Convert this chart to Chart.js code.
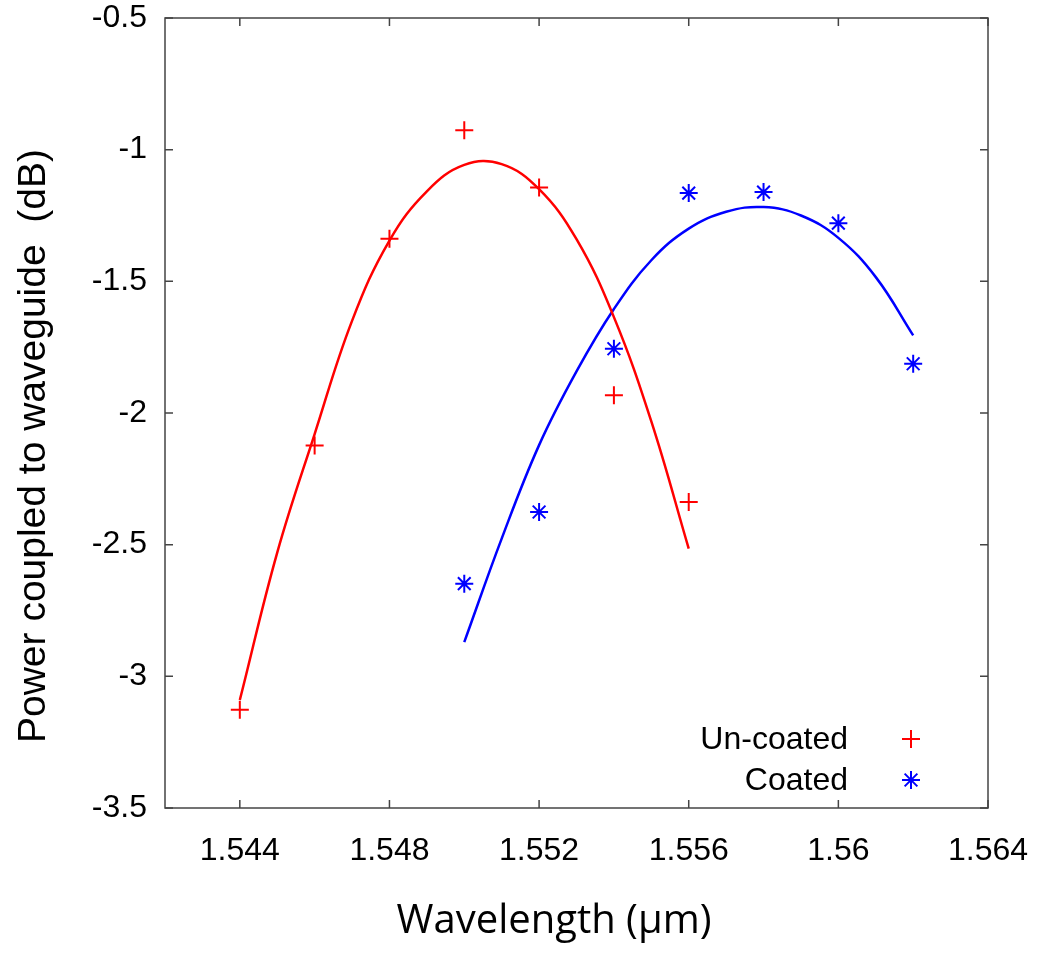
<!DOCTYPE html>
<html>
<head>
<meta charset="utf-8">
<title>Power coupled to waveguide vs wavelength</title>
<script src="https://cdn.jsdelivr.net/npm/chart.js"></script>
<style>
  html, body { margin: 0; padding: 0; background: #fff; }
  canvas { display: block; }
</style>
</head>
<body>
<canvas id="canvas" width="1043" height="953"></canvas>
<script>
// measured points
const uncoatedX = [1.544, 1.546, 1.548, 1.550, 1.552, 1.554, 1.556];
const uncoatedY = [-3.127, -2.123, -1.338, -0.926, -1.144, -1.933, -2.338];
const coatedX = [1.550, 1.552, 1.554, 1.556, 1.558, 1.560, 1.562];
const coatedY = [-2.648, -2.376, -1.756, -1.165, -1.161, -1.279, -1.813];

// fitted curves
const uncoatedFitX = [1.544, 1.545, 1.546, 1.547, 1.548, 1.549, 1.550, 1.551, 1.552, 1.553, 1.554, 1.555, 1.556];
const uncoatedFitY = [-3.09, -2.53, -2.08, -1.65, -1.345, -1.158, -1.058, -1.055, -1.150, -1.340, -1.636, -2.032, -2.515];
const coatedFitX = [1.550, 1.551, 1.552, 1.553, 1.554, 1.555, 1.556, 1.557, 1.558, 1.559, 1.560, 1.561, 1.562];
const coatedFitY = [-2.870, -2.477, -2.122, -1.842, -1.605, -1.420, -1.300, -1.236, -1.218, -1.250, -1.335, -1.484, -1.705];

const xTickValues = [1.544, 1.548, 1.552, 1.556, 1.560, 1.564];
const yTickValues = [-3.5, -3, -2.5, -2, -1.5, -1, -0.5];

const legendLabels = ['Un-coated', 'Coated'];

const toPoints = (xs, ys) => xs.map((x, i) => ({ x: x, y: ys[i] }));

const RED = '#ff0000';
const BLUE = '#0000ff';
const FRAME = '#444444';

// frame, inside ticks on all four sides, axis titles, legend
const framePlugin = {
  id: 'frame',
  afterDraw(chart) {
    const ctx = chart.ctx;
    const a = chart.chartArea;
    const xs = chart.scales.x;
    const ys = chart.scales.y;
    const tl = 8;
    ctx.save();
    ctx.strokeStyle = FRAME;
    ctx.lineWidth = 1.5;
    ctx.strokeRect(a.left, a.top, a.right - a.left, a.bottom - a.top);
    ctx.beginPath();
    xTickValues.forEach(v => {
      const px = xs.getPixelForValue(v);
      ctx.moveTo(px, a.bottom); ctx.lineTo(px, a.bottom - tl);
      ctx.moveTo(px, a.top); ctx.lineTo(px, a.top + tl);
    });
    yTickValues.forEach(v => {
      const py = ys.getPixelForValue(v);
      ctx.moveTo(a.left, py); ctx.lineTo(a.left + tl, py);
      ctx.moveTo(a.right, py); ctx.lineTo(a.right - tl, py);
    });
    ctx.stroke();

    // axis titles
    ctx.fillStyle = '#000';
    ctx.textAlign = 'center';
    ctx.textBaseline = 'alphabetic';
    ctx.font = '40px "Open Sans", sans-serif';
    ctx.fillText('Wavelength (\u00b5m)', 554, 933);
    ctx.save();
    ctx.translate(45, 446);
    ctx.rotate(-Math.PI / 2);
    ctx.font = '39px "Liberation Sans", Arial, sans-serif';
    ctx.fillText('Power coupled to waveguide  (dB)', 0, 0);
    ctx.restore();

    // legend
    ctx.font = '32px "Liberation Sans", Arial, sans-serif';
    ctx.textAlign = 'right';
    ctx.textBaseline = 'middle';
    const rows = [739, 780];
    ctx.fillText(legendLabels[0], 848, rows[0] + 1);
    ctx.fillText(legendLabels[1], 848, rows[1] + 1);
    const mx = 911, r = 9;
    ctx.lineWidth = 2;
    ctx.strokeStyle = RED;
    ctx.beginPath();
    ctx.moveTo(mx - r, rows[0]); ctx.lineTo(mx + r, rows[0]);
    ctx.moveTo(mx, rows[0] - r); ctx.lineTo(mx, rows[0] + r);
    ctx.stroke();
    ctx.strokeStyle = BLUE;
    ctx.beginPath();
    const d = r * Math.SQRT1_2;
    ctx.moveTo(mx - r, rows[1]); ctx.lineTo(mx + r, rows[1]);
    ctx.moveTo(mx, rows[1] - r); ctx.lineTo(mx, rows[1] + r);
    ctx.moveTo(mx - d, rows[1] - d); ctx.lineTo(mx + d, rows[1] + d);
    ctx.moveTo(mx - d, rows[1] + d); ctx.lineTo(mx + d, rows[1] - d);
    ctx.stroke();
    ctx.restore();
  }
};

const data = {
  datasets: [
    {
      label: 'Un-coated fit',
      data: toPoints(uncoatedFitX, uncoatedFitY),
      showLine: true,
      borderColor: RED,
      borderWidth: 2.5,
      pointRadius: 0,
      tension: 0.4,
    },
    {
      label: 'Coated fit',
      data: toPoints(coatedFitX, coatedFitY),
      showLine: true,
      borderColor: BLUE,
      borderWidth: 2.5,
      pointRadius: 0,
      tension: 0.4,
    },
    {
      label: legendLabels[0],
      data: toPoints(uncoatedX, uncoatedY),
      pointStyle: 'cross',
      pointRadius: 9,
      pointBorderWidth: 2,
      borderColor: RED,
      backgroundColor: RED,
    },
    {
      label: legendLabels[1],
      data: toPoints(coatedX, coatedY),
      pointStyle: 'star',
      pointRadius: 9,
      pointBorderWidth: 2,
      borderColor: BLUE,
      backgroundColor: BLUE,
    },
  ],
};

const tickFont = { family: '"Liberation Sans", Arial, sans-serif', size: 32 };

// keep tick labels from pushing the plot area around
const noOverflow = scale => {
  scale.paddingTop = 0;
  scale.paddingBottom = 0;
  scale.paddingLeft = 0;
  scale.paddingRight = 0;
};

const config = {
  type: 'scatter',
  data: data,
  options: {
    responsive: false,
    animation: false,
    devicePixelRatio: 1,
    layout: { padding: { top: 18, right: 55, left: 0, bottom: 0 } },
    plugins: {
      legend: { display: false },
      tooltip: { enabled: false },
    },
    scales: {
      x: {
        type: 'linear',
        min: 1.542,
        max: 1.564,
        grid: { display: false, drawTicks: false },
        border: { display: false },
        afterBuildTicks: scale => { scale.ticks = xTickValues.map(v => ({ value: v })); },
        afterFit: scale => { scale.height = 145; noOverflow(scale); },
        ticks: {
          color: '#000',
          font: tickFont,
          padding: 24,
          maxRotation: 0,
          autoSkip: false,
          callback: v => String(+v.toFixed(3)),
        },
      },
      y: {
        type: 'linear',
        min: -3.5,
        max: -0.5,
        grid: { display: false, drawTicks: false },
        border: { display: false },
        afterBuildTicks: scale => { scale.ticks = yTickValues.map(v => ({ value: v })); },
        afterFit: scale => { scale.width = 165; noOverflow(scale); },
        ticks: {
          color: '#000',
          font: tickFont,
          padding: 18,
          autoSkip: false,
          callback: v => String(+v.toFixed(1)),
        },
      },
    },
  },
  plugins: [framePlugin],
};

const canvas = document.getElementById('canvas');
const chart = new Chart(canvas, config);
</script>
</body>
</html>
